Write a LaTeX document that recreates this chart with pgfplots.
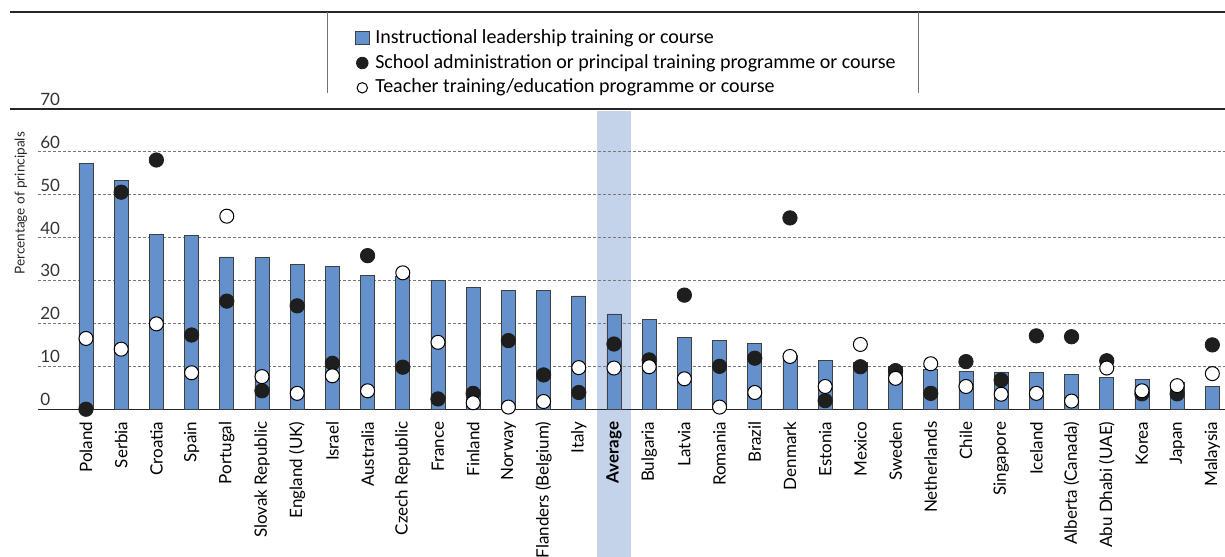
\documentclass[border=0pt]{standalone}
\usepackage{fontspec}
\setmainfont{Lato}
\newfontfamily\legfont{Carlito}
\usepackage{pgfplots}
\usepackage{pgfplotstable}
\pgfplotsset{compat=1.18}
\definecolor{barblue}{RGB}{100,145,204}
\definecolor{bandblue}{RGB}{197,211,234}
\definecolor{gridgray}{RGB}{120,120,120}
\definecolor{dotblack}{RGB}{30,30,30}

\pgfplotstableread{
x il sa tt
0 57.3 0.0 16.5
1 53.4 50.6 14.0
2 40.8 58.1 19.9
3 40.6 17.3 8.5
4 35.5 25.2 45.0
5 35.3 4.3 7.6
6 33.8 24.1 3.7
7 33.2 10.7 7.8
8 31.1 35.8 4.3
9 30.9 9.8 31.8
10 30.0 2.4 15.6
11 28.3 3.7 1.5
12 27.7 16.0 0.5
13 27.7 8.0 1.8
14 26.4 3.9 9.7
15 22.2 15.2 9.6
16 20.9 11.5 9.9
17 16.8 26.6 7.1
18 16.1 10.0 0.5
19 15.4 11.9 3.9
20 12.5 44.6 12.3
21 11.3 2.0 5.3
22 10.9 9.9 15.1
23 9.9 9.0 7.2
24 9.3 3.7 10.6
25 8.9 11.1 5.3
26 8.7 6.8 3.5
27 8.5 17.1 3.7
28 8.2 16.9 1.9
29 7.5 11.3 9.6
30 7.0 3.6 4.3
31 6.2 3.6 5.5
32 5.4 15.0 8.3
}\datatable

\begin{document}
\begin{tikzpicture}
\begin{axis}[
  set layers,
  anchor=origin, at={(0,0)},
  x=17.6pt, y=2.145pt,
  xmin=-1.364, xmax=32.36, ymin=0, ymax=70,
  axis line style={draw=none},
  clip=false,
  ytick={0,10,...,70},
  ymajorgrids,
  grid style={gridgray, line width=0.5pt, dash pattern=on 1.5pt off 1pt},
  major tick length=0pt,
  /pgf/number format/assume math mode=true,
  yticklabel style={anchor=base west, font=\fontsize{8.5}{10}\selectfont, text=black!80, inner sep=0pt, xshift=1pt, yshift=1.8pt},
  xtick={0,...,32},
  xticklabels={Poland,Serbia,Croatia,Spain,Portugal,Slovak Republic,England (UK),Israel,Australia,Czech Republic,France,Finland,Norway,Flanders (Belgium),Italy,\textbf{Average},Bulgaria,Latvia,Romania,Brazil,Denmark,Estonia,Mexico,Sweden,Netherlands,Chile,Singapore,Iceland,Alberta (Canada),Abu Dhabi (UAE),Korea,Japan,Malaysia},
  xticklabel style={rotate=90, anchor=east, font=\fontsize{8.5}{10}\selectfont, inner sep=0pt},
  xticklabel shift=6pt,
  legend cell align=left,
  legend style={at={(axis cs:7.64,89.1)}, anchor=north west, draw=none, fill=none,
    font=\legfont\fontsize{10}{12}\selectfont, row sep=1.6pt, column sep=2pt, inner sep=0pt,
    nodes={inner sep=1pt, text height=6.9pt, text depth=1.9pt}},
]
\begin{pgfonlayer}{axis background}
\fill[bandblue] (axis cs:14.52,69.6) rectangle (axis cs:15.48,-40);
\end{pgfonlayer}
\draw[black!85, line width=0.7pt] (axis cs:-2.16,70) -- (axis cs:32.36,70);
\draw[black!85, line width=0.7pt] (axis cs:-2.16,92.6) -- (axis cs:32.36,92.6);
\draw[black!55, line width=0.5pt] (axis cs:6.875,92.6) -- (axis cs:6.875,73.7);
\draw[black!55, line width=0.5pt] (axis cs:23.64,92.6) -- (axis cs:23.64,73.7);
\draw[black!85, line width=0.7pt] (axis cs:-1.364,0) -- (axis cs:32.36,0);
\node[rotate=90, anchor=center, inner sep=0pt, font=\fontsize{6.8}{8}\selectfont, text=black!85] at (axis cs:-1.85,48) {Percentage of principals};
\coordinate (bl) at (axis cs:-2.443,-34.4);
\coordinate (tr) at (axis cs:32.36,95.4);

\addplot[ybar, bar width=7pt, fill=barblue, draw=black!75, line width=0.4pt,
  legend image code/.code={\draw[fill=barblue,draw=black!75,line width=0.4pt] (0pt,-3.3pt) rectangle (6.6pt,3.3pt);}]
  table[x=x,y=il]{\datatable};
\addlegendentry{Instructional leadership training or course}
\addplot[only marks, mark=*, mark size=3.6pt, mark options={fill=dotblack, draw=dotblack},
  legend image code/.code={\fill[dotblack] (3.3pt,0pt) circle (2.9pt);}]
  table[x=x,y=sa]{\datatable};
\addlegendentry{School administration or principal training programme or course}
\addplot[only marks, mark=*, mark size=3.5pt, mark options={fill=white, draw=black, line width=0.5pt},
  legend image code/.code={\draw[fill=white,draw=black,line width=0.5pt] (3.3pt,0pt) circle (2.6pt);}]
  table[x=x,y=tt]{\datatable};
\addlegendentry{Teacher training/education programme or course}
\end{axis}
\pgfresetboundingbox
\useasboundingbox (bl) rectangle (tr);
\end{tikzpicture}
\end{document}
